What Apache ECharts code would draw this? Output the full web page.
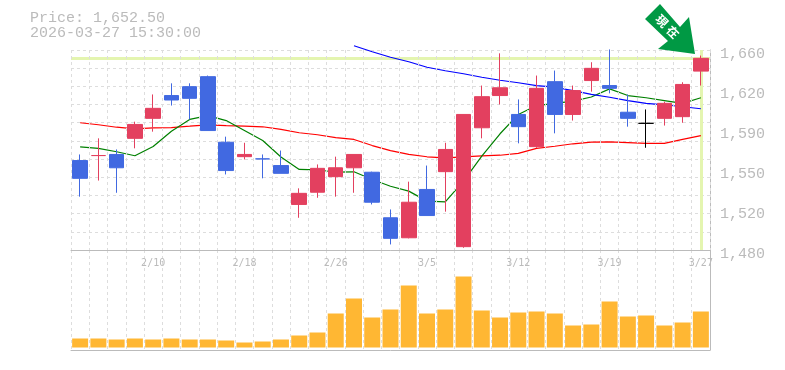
<!DOCTYPE html>
<html><head><meta charset="utf-8">
<style>html,body{margin:0;padding:0;background:#fff}#c{width:785px;height:370px}</style>
<script src="https://cdn.jsdelivr.net/npm/echarts@6/dist/echarts.min.js"></script>
</head><body><div id="c"></div>
<script>
const categories = ['2/4','2/5','2/6','2/9','2/10','2/12','2/13','2/16','2/17','2/18','2/19','2/20','2/24','2/25','2/26','2/27','3/2','3/3','3/4','3/5','3/6','3/9','3/10','3/11','3/12','3/13','3/16','3/17','3/18','3/19','3/23','3/24','3/25','3/26','3/27'];
const labelledDates = ['2/10','2/18','2/26','3/5','3/12','3/19','3/27'];
const opens  = [1560.5,1565,1566,1580.5,1598.5,1619,1627,1636,1577,1564,1562,1556,1521,1532,1546,1554,1550,1509,1491,1534.5,1550.5,1483,1590,1619,1602,1573,1631.5,1602,1632.5,1628,1604,1594,1598.5,1600,1641];
const closes = [1544.5,1565,1554,1593,1607.5,1615,1616.5,1587.5,1551.5,1566,1562,1549,1531,1553.5,1554,1566,1523,1490.5,1523,1511,1570.5,1602,1618,1626,1591,1625.5,1602,1623.5,1643.5,1625.5,1598.5,1594,1612,1629,1652.5];
const lows   = [1528,1542.5,1531.5,1571.5,1586.5,1610,1597.5,1587.5,1548,1561.5,1544.5,1549,1509,1527,1528,1531.5,1521,1485,1490.5,1511,1514.5,1482,1580.5,1611,1576,1572,1585,1596.5,1622.5,1621,1591,1572,1592,1594.5,1628];
const highs  = [1566,1580.5,1570.5,1595.5,1620,1630,1630,1637,1582,1576.5,1566,1569.5,1535.5,1557,1564,1566,1550.5,1516.5,1541.5,1556,1576.5,1602,1628,1657,1615.5,1637,1641.5,1628,1649,1660.5,1620,1606.5,1613.5,1631,1655];
const maShort = [1572.9,1571.4,1568.4,1564.8,1573.2,1586.9,1597.5,1601,1596.5,1587.5,1578.5,1563.7,1552.5,1552.2,1550,1550.4,1543.5,1537.4,1533,1524,1523.4,1542,1564.4,1584.6,1602,1610,1611.9,1614,1617.7,1625,1619,1617,1614.5,1611.9,1617];
const maMid = [1594.5,1592.7,1590.5,1589,1590,1590.2,1591.4,1592.7,1592,1591.4,1590.9,1588.5,1585.5,1583.7,1581.2,1579.5,1574,1569.5,1566,1563.9,1563,1563.9,1564.8,1565.3,1566.9,1571.4,1573.4,1575.6,1577,1577.4,1576.7,1575.9,1575.9,1579.5,1583];
const maLong = [null,null,null,null,null,null,null,null,null,null,null,null,null,null,null,1663.8,1658.4,1653.5,1649.4,1644.5,1641.3,1638.6,1635.5,1632.8,1630.5,1628,1626.5,1623.5,1620,1617.5,1614.5,1611.9,1610.7,1608.9,1607.1];
const volumes = [9,9,8,9,8,9,8,8,7,5,6,8,12,15,34,49,30,38,62,34,38,71,37,30,35,36,34,22,23,46,31,32,22,25,36];
const dojiColours = {1:'#e3405f',10:'#4169e1',31:'#000000'};
const priceTicks = [1480,1516,1552,1588,1624,1660];
const currentPrice = 1652.5;
const headerLines = ['Price: 1,652.50','2026-03-27 15:30:00'];

const grey='#bbbbbb', dash='#dddddd', up='#e3405f', down='#4169e1';
const mono='"Liberation Mono","DejaVu Sans Mono",monospace';
const candleData = categories.map((_,i)=>{
  const v=[opens[i],closes[i],lows[i],highs[i]];
  if(dojiColours[i]) return {value:v,itemStyle:{color:dojiColours[i],color0:dojiColours[i],borderColor:dojiColours[i],borderColor0:dojiColours[i],borderColorDoji:dojiColours[i]}};
  return v;
});
const lineSeries=(name,data,color)=>({name,type:'line',data,xAxisIndex:0,yAxisIndex:0,symbol:'none',clip:false,z:3,silent:true,
  connectNulls:false,lineStyle:{color,width:1.2}});
const chart=echarts.init(document.getElementById('c'),null,{renderer:'canvas'});
chart.setOption({
  animation:false,backgroundColor:'#fff',
  grid:[{left:71,top:50,width:639,height:200},{left:71,top:250,width:639,height:100}],
  xAxis:[
    {type:'category',gridIndex:0,data:categories,boundaryGap:true,
      axisLine:{show:true,onZero:false,lineStyle:{color:grey,width:1}},axisTick:{show:false},
      axisLabel:{color:grey,fontFamily:'"DejaVu Sans Mono",monospace',fontSize:10,margin:8,showMinLabel:true,showMaxLabel:true,
        interval:(i,v)=>labelledDates.includes(v)},
      splitLine:{show:true,interval:0,lineStyle:{color:dash,type:[3,3],width:1}},z:6},
    {type:'category',gridIndex:1,data:categories,boundaryGap:true,
      axisLine:{show:true,onZero:false,lineStyle:{color:grey,width:1}},axisTick:{show:false},axisLabel:{show:false},
      splitLine:{show:true,interval:0,lineStyle:{color:dash,type:[3,3],width:1}}}
  ],
  yAxis:[
    {type:'value',gridIndex:0,position:'right',min:1480,max:1660,scale:true,
      axisLine:{show:true,lineStyle:{color:grey,width:1}},axisTick:{show:false},
      axisLabel:{color:grey,fontFamily:mono,fontSize:15,margin:10,verticalAlign:'top',lineHeight:8,
        customValues:priceTicks,formatter:v=>(Math.round(v/10)*10).toLocaleString('en-US')},
      splitLine:{show:false}},
    {type:'value',gridIndex:0,position:'right',min:0,max:11,interval:1,
      axisLine:{show:false},axisTick:{show:false},axisLabel:{show:false},
      splitLine:{show:true,lineStyle:{color:dash,type:[3,3],width:1}}},
    {type:'value',gridIndex:1,position:'right',min:-2.5,max:97.5,
      axisLine:{show:true,lineStyle:{color:grey,width:1}},axisTick:{show:false},axisLabel:{show:false},splitLine:{show:false}}
  ],
  series:[
    {name:'guides',type:'line',data:[],xAxisIndex:0,yAxisIndex:0,silent:true,z:1,
      markLine:{silent:true,z:1,symbol:'none',animation:false,label:{show:false},
        lineStyle:{color:'#e4f5b0',width:3,type:'solid'},
        data:[{yAxis:currentPrice},{xAxis:categories[categories.length-1]}]}},
    {name:'Price',type:'candlestick',data:candleData,xAxisIndex:0,yAxisIndex:0,barWidth:15,clip:false,z:4,silent:true,
      itemStyle:{color:up,color0:down,borderColor:up,borderColor0:down,borderWidth:1}},
    lineSeries('maMid',maMid,'#ff0000'),
    lineSeries('maShort',maShort,'#008000'),
    lineSeries('maLong',maLong,'#0000ff'),
    {name:'Volume',type:'bar',data:volumes,xAxisIndex:1,yAxisIndex:2,barWidth:16,silent:true,z:3,
      itemStyle:{color:'#ffb733'}}
  ],
  graphic:[
    {type:'text',left:30,top:11,style:{text:headerLines[0],font:'15px '+mono,fill:grey}},
    {type:'text',left:30,top:26,style:{text:headerLines[1],font:'15px '+mono,fill:grey}},
    {type:'polygon',z:20,shape:{points:[[660,4],[645,19],[668,41],[658,49],[695,54],[689,17],[680,27]]},style:{fill:'#009944'}},
    {type:'text',z:21,x:662,y:21,rotation:-Math.PI/4,style:{text:'現',font:'bold 12px "Noto Sans CJK JP"',fill:'#fff',align:'center',verticalAlign:'middle'}},
    {type:'text',z:21,x:673,y:32,rotation:-Math.PI/4,style:{text:'在',font:'bold 12px "Noto Sans CJK JP"',fill:'#fff',align:'center',verticalAlign:'middle'}}
  ]
});
</script></body></html>
